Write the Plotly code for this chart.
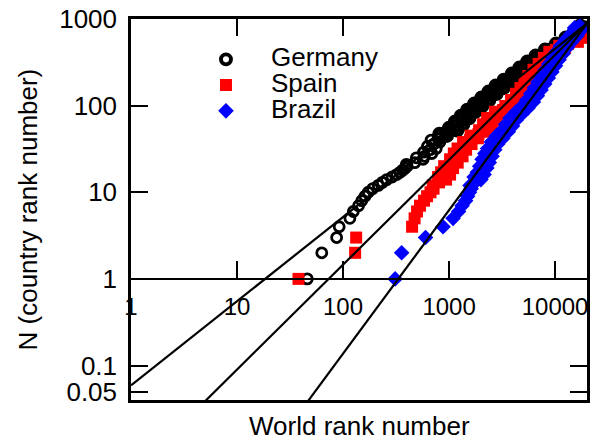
import plotly.graph_objects as go

# ---------------- data ----------------
# Germany: country rank N and world rank
ger_n = [1, 2, 3, 4, 5, 6, 7, 8, 9, 10, 11, 12, 13, 14, 15, 16, 17, 18, 19, 20,
         21, 22, 24, 25, 26, 28, 29, 31, 32, 34, 36, 38, 40, 42, 45, 47, 50, 52,
         55, 58, 61, 65, 68, 72, 76, 80, 85, 89, 94, 99, 105, 110, 116, 123, 130,
         137, 144, 152, 160, 169, 178, 188, 198, 209, 220, 233, 245, 259, 273,
         288, 303, 320, 338, 356, 375, 396, 418, 440, 465, 490, 517, 545, 575,
         606, 639, 674, 711, 750, 791, 834]
ger_rank = [46, 63, 87, 92, 116, 125, 140, 150, 161, 173, 190, 215, 235, 258, 290,
            321, 345, 365, 385, 402, 396, 475, 569, 491, 586, 688, 574, 662, 757,
            626, 716, 820, 677, 802, 950, 812, 967, 1190, 1001, 1165, 1356, 1140,
            1327, 1545, 1298, 1511, 1759, 1489, 1743, 2044, 1729, 2030, 2386, 2022,
            2375, 2788, 2360, 2766, 3254, 2759, 3254, 3871, 3296, 3895, 4605, 3920,
            4617, 5445, 4617, 5418, 6391, 5470, 6478, 7673, 6563, 7812, 9330, 8050,
            9680, 11650, 10220, 12430, 14720, 12600, 14920, 17670, 15110, 17590,
            19600, 17210]

# Spain
spa_n = [1, 2, 3, 4, 5, 6, 7, 8, 9, 10, 11, 12, 13, 14, 15, 15, 16, 17, 18, 19,
         20, 21, 22, 24, 25, 26, 28, 29, 31, 32, 34, 36, 38, 40, 42, 45, 47, 50,
         52, 55, 58, 61, 65, 68, 72, 76, 80, 85, 89, 94, 99, 105, 110, 116, 123,
         130, 137, 144, 152, 160, 169, 178, 188, 198, 209, 220, 233, 245, 259,
         273, 288, 303, 320, 338, 356, 375, 396, 418, 440, 465, 490, 517, 545,
         575, 606, 639]
spa_rank = [38, 130, 133, 448, 473, 499, 532, 581, 620, 668, 714, 702, 805, 937,
            788, 898, 1022, 841, 958, 1091, 898, 1045, 1206, 1022, 1177, 1341, 1108,
            1270, 1447, 1203, 1401, 1630, 1356, 1578, 1870, 1599, 1894, 2244, 1920,
            2201, 2529, 2093, 2400, 2759, 2284, 2705, 3197, 2717, 3232, 3895, 3391,
            3999, 4617, 3845, 4439, 5122, 4270, 4926, 5687, 4705, 5409, 6202, 5133,
            5899, 6766, 5601, 6478, 7492, 6257, 7220, 8368, 6991, 8085, 9370, 7843,
            9088, 10540, 8820, 10220, 12430, 10910, 13270, 16410, 14790, 17980,
            20000]

# Brazil
bra_n = [1, 2, 3, 4, 5, 6, 7, 8, 9, 10, 11, 12, 13, 14, 15, 15, 16, 17, 18, 19,
         20, 21, 22, 24, 25, 26, 28, 29, 31, 32, 34, 36, 38, 40, 42, 45, 47, 50,
         52, 55, 58, 61, 65, 68, 72, 76, 80, 85, 89, 94, 99, 105, 110, 116, 123,
         130, 137, 144, 152, 160, 169, 178, 188, 198, 209, 220, 233, 245, 259,
         273, 288, 303, 320, 338, 356, 375, 396, 418, 440, 465, 490, 517, 545,
         575, 606, 639, 674, 711, 750, 791, 834]
bra_rank = [310, 357, 600, 877, 1091, 1230, 1327, 1432, 1496, 1560, 1614, 1578,
            1759, 1996, 1722, 1920, 2139, 1846, 2048, 2273, 1944, 2157, 2396, 2048,
            2284, 2545, 2177, 2428, 2700, 2309, 2579, 2882, 2502, 2838, 3219, 2807,
            3183, 3620, 3163, 3543, 3964, 3420, 3828, 4287, 3763, 4287, 4883, 4290,
            4880, 5563, 4885, 5560, 6243, 5400, 6068, 6810, 5886, 6620, 7379, 6366,
            7129, 7978, 6885, 7707, 8632, 7444, 8339, 9330, 8050, 9010, 10090,
            8707, 9745, 10910, 9430, 10590, 11900, 10290, 11540, 12990, 11250,
            12680, 14370, 12570, 14250, 16130, 14150, 15890, 17780, 15280, 17030]

# power-law fit lines (end points)
fit_rank = [1, 20000]
ger_fit = [0.059, 890]
spa_fit = [0.00552, 893]
bra_fit = [6.65e-5, 891]

x_ticks = [1, 10, 100, 1000, 10000]
x_ticktext = ["1", "10", "100", "1000", "10000"]
y_ticks = [0.05, 0.1, 1, 10, 100, 1000]
y_ticktext = ["0.05", "0.1", "1", "10", "100", "1000"]

FONT = "Liberation Sans, Arial, Helvetica, sans-serif"
BIG = 26

# dense part of the German band is drawn with thicker rings
ger_ring = [2.8 if n <= 40 else 4.6 for n in ger_n]

fig = go.Figure()

fig.add_trace(go.Scatter(
    x=ger_rank, y=ger_n, mode="markers",
    name='<span style="font-size:26px">Germany</span>',
    marker=dict(symbol="circle-open", size=10, color="black",
                line=dict(width=ger_ring, color="black"))))
fig.add_trace(go.Scatter(
    x=spa_rank, y=spa_n, mode="markers",
    name='<span style="font-size:26px">Spain</span>',
    marker=dict(symbol="square", size=12, color="#ff0000")))
fig.add_trace(go.Scatter(
    x=bra_rank, y=bra_n, mode="markers",
    name='<span style="font-size:26px">Brazil</span>',
    marker=dict(symbol="diamond", size=12, color="#0000ff")))

for fy in (ger_fit, spa_fit, bra_fit):
    fig.add_trace(go.Scatter(x=fit_rank, y=fy, mode="lines", xaxis="x2",
                             line=dict(color="black", width=2.2),
                             showlegend=False, hoverinfo="skip"))

XR = [0, 4.301]
YR = [-1.398, 3]

fig.update_layout(
    template="none",
    width=592, height=439,
    margin=dict(l=131, r=5, t=19, b=39, autoexpand=False),
    paper_bgcolor="white", plot_bgcolor="white",
    font=dict(family=FONT, size=BIG, color="black"),
    xaxis=dict(type="log", range=XR, side="top", showgrid=False, zeroline=False,
               automargin=False,
               ticks="inside", ticklen=17, tickwidth=2, tickcolor="black",
               tickvals=x_ticks, showticklabels=False,
               showline=True, linewidth=2.5, linecolor="black", mirror=True),
    xaxis2=dict(type="log", range=XR, overlaying="x", anchor="free",
                position=0.3179, side="bottom", showgrid=False, zeroline=False,
                automargin=False,
                ticks="inside", ticklen=17, tickwidth=2, tickcolor="black",
                tickvals=x_ticks, ticktext=x_ticktext, ticklabelstandoff=6,
                tickfont=dict(size=24),
                showline=True, linewidth=2.2, linecolor="black"),
    yaxis=dict(type="log", range=YR, showgrid=False, zeroline=False,
               automargin=False,
               ticks="inside", ticklen=17, tickwidth=2, tickcolor="black",
               tickvals=y_ticks, ticktext=y_ticktext, ticklabelstandoff=6,
               tickfont=dict(size=BIG),
               showline=True, linewidth=2.5, linecolor="black", mirror="ticks"),
    legend=dict(x=0.1096, y=0.941, xanchor="left", yanchor="top",
                bgcolor="rgba(0,0,0,0)", borderwidth=0, itemwidth=80,
                font=dict(size=17.5, family=FONT)),
    showlegend=True,
    annotations=[
        dict(text="World rank number", xref="paper", yref="paper",
             x=0.5, y=-0.068, xanchor="center", yanchor="middle",
             showarrow=False, font=dict(size=BIG)),
        dict(text="N (country rank number)", xref="paper", yref="paper",
             x=-0.2259, y=0.5, xanchor="center", yanchor="middle",
             textangle=-90, showarrow=False, font=dict(size=BIG)),
    ],
)

fig.write_html("out.html", config={"displayModeBar": False},
               post_script="document.body.style.margin='0px';")
